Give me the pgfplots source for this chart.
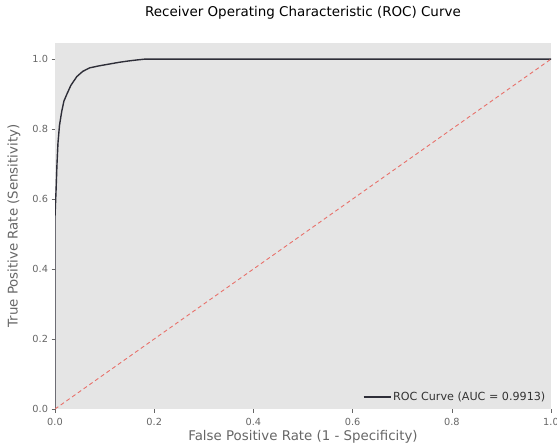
\documentclass[border=0pt]{standalone}
\usepackage{pgfplots}
\pgfplotsset{compat=1.18}
\usepackage{fontspec}
\setmainfont{DejaVu Sans}
\definecolor{bgc}{HTML}{E5E5E5}
\definecolor{tickc}{HTML}{666666}
\definecolor{rocc}{HTML}{2E2E38}
\definecolor{diagc}{HTML}{E8706A}
\begin{document}
\begin{tikzpicture}
\path[use as bounding box] (-55bp,-37bp) rectangle (502bp,409bp);
\begin{axis}[
  at={(0,0)}, anchor=south west,
  scale only axis,
  width=496bp, height=366bp,
  xmin=0, xmax=1, ymin=0, ymax=1.046,
  axis background/.style={fill=bgc},
  axis line style={draw=none},
  xtick={0,0.2,0.4,0.6,0.8,1.0},
  ytick={0,0.2,0.4,0.6,0.8,1.0},
  /pgf/number format/fixed,
  /pgf/number format/fixed zerofill,
  /pgf/number format/precision=1,
  /pgf/number format/assume math mode=true,
  tick label style={font=\fontsize{9.8}{11}\selectfont, text=tickc},
  xticklabel style={yshift=-2bp},
  tick align=outside,
  tick pos=left,
  major tick length=3.5bp,
  tick style={tickc, line width=0.5pt},
  xlabel={False Positive Rate (1 - Specificity)},
  ylabel={True Positive Rate (Sensitivity)},
  label style={font=\fontsize{13.4}{15}\selectfont, text=tickc},
  xlabel style={at={(axis description cs:0.5,0)}, anchor=center, yshift=-28bp},
  ylabel style={at={(axis description cs:-0.083,0.5)}, anchor=center},
  title={Receiver Operating Characteristic (ROC) Curve},
  title style={font=\fontsize{13.5}{15}\selectfont, at={(axis description cs:0.5,1)}, anchor=center, yshift=24bp},
  legend style={at={(axis description cs:0.995,0.01)}, anchor=south east, fill=bgc, draw=none, font=\fontsize{11.2}{13}\selectfont, text=black!80, inner sep=1pt},
  legend image code/.code={\draw[#1] (0bp,0bp) -- (27bp,0bp);},
  legend cell align=left,
  clip=true,
]
\addplot[rocc, line width=1.4pt] coordinates {
(0,0) (0,0.55) (0.002,0.62) (0.004,0.70) (0.006,0.76) (0.009,0.81) (0.0135,0.85)
(0.018,0.88) (0.024,0.90) (0.032,0.925) (0.044,0.95) (0.056,0.965) (0.07,0.975)
(0.09,0.981) (0.11,0.986) (0.13,0.991) (0.15,0.995) (0.168,0.998) (0.182,1.0) (1,1)
};
\addlegendentry{ROC Curve (AUC = 0.9913)}
\addplot[diagc, dash pattern=on 4bp off 3bp, line width=0.9pt, forget plot] coordinates {(0,0) (1,1)};
\end{axis}
\end{tikzpicture}
\end{document}
